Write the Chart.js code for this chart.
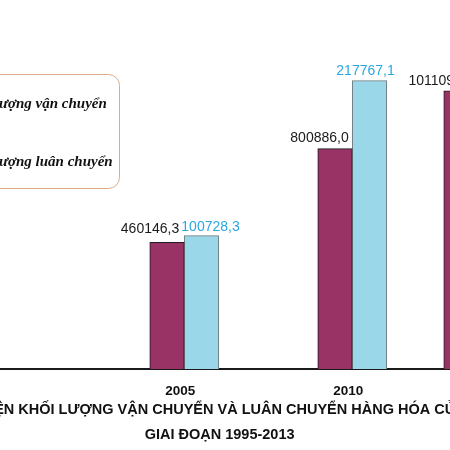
<!DOCTYPE html>
<html>
<head>
<meta charset="utf-8">
<script src="https://cdn.jsdelivr.net/npm/chart.js@4.4.1/dist/chart.umd.min.js"></script>
<style>
  html, body { margin: 0; padding: 0; width: 450px; height: 450px; overflow: hidden; background: #fff; }
  #wrap { position: absolute; left: -150px; top: 0; }
</style>
</head>
<body>
<div id="wrap"><canvas id="chart" width="700" height="450"></canvas></div>
<script>
// years shown in the picture (the earlier ones are cropped away)
var years = ['2005', '2010', '2013'];
// khoi luong van chuyen (nghin tan)
var vanChuyen = [460146.3, 800886.0, 1011090.0];
// khoi luong luan chuyen (trieu tan.km) - the 2013 bar is outside the picture
var luanChuyen = [100728.3, 217767.1, null];
var seriesNames = ['Khối lượng vận chuyển', 'Khối lượng luân chuyển'];
var titleLine1 = 'BIỂU ĐỒ THỂ HIỆN KHỐI LƯỢNG VẬN CHUYỂN VÀ LUÂN CHUYỂN HÀNG HÓA CỦA NƯỚC TA';
var titleLine2 = 'GIAI ĐOẠN 1995-2013';

// the original spaces the years unevenly, so empty slots keep that spacing on the axis
var slotLabels = ['', '', '', '', years[0], '', '', '', years[1], '', '', years[2]];

var sans = "'Liberation Sans', Arial, sans-serif";

// the picture is a crop of a wider chart: the canvas is shifted left by this much
var shift = 150;
var plotLeft = shift - 4.75;
var plotRight = plotLeft + 504;

// the two title lines are not centred on the same point in the original,
// so line 1 is laid out from its left end and line 2 from its centre
var measure = document.createElement('canvas').getContext('2d');
measure.font = 'bold 14.5px ' + sans;
var prefixW = measure.measureText(titleLine1.slice(0, titleLine1.indexOf('KHỐI'))).width;
var padL = shift + 18.3 - prefixW;
var canvasW = Math.round(2 * (shift + 219.5) - padL);
document.getElementById('chart').width = canvasW;

function fmt(v) {
	return v.toFixed(1).replace('.', ',');
}

function points(values) {
	return values.map(function(v, i) { return { x: years[i], y: v }; });
}

// value labels above each bar (the original labels were nudged by hand)
var barLabels = {
	id: 'barLabels',
	afterDatasetsDraw: function(chart) {
		var ctx = chart.ctx;
		ctx.save();
		ctx.font = '14px ' + sans;
		ctx.textAlign = 'center';
		ctx.textBaseline = 'alphabetic';
		chart.data.datasets.forEach(function(ds, d) {
			var meta = chart.getDatasetMeta(d);
			meta.data.forEach(function(bar, i) {
				var v = ds.data[i].y;
				if (v === null) return;
				ctx.fillStyle = ds.labelColor;
				ctx.fillText(fmt(v), bar.x + ds.labelShift[i], bar.y - ds.labelGap[i]);
			});
		});
		ctx.restore();
	}
};

// excel-like legend box with rounded border
var legendBox = {
	id: 'legendBox',
	afterDraw: function(chart) {
		var ctx = chart.ctx;
		var x0 = shift - 90;
		ctx.save();
		ctx.beginPath();
		ctx.roundRect(x0 + 0.5, 74.5, 209, 114, 11);
		ctx.fillStyle = '#fff';
		ctx.fill();
		ctx.strokeStyle = '#dcab8c';
		ctx.lineWidth = 1;
		ctx.stroke();
		ctx.font = "italic bold 15px 'Liberation Serif', 'Times New Roman', serif";
		ctx.textBaseline = 'alphabetic';
		ctx.textAlign = 'left';
		chart.data.datasets.forEach(function(ds, d) {
			var y = 108 + d * 58;
			ctx.fillStyle = ds.backgroundColor;
			ctx.fillRect(x0 + 26, y - 11, 14, 11);
			ctx.strokeStyle = ds.borderColor;
			ctx.strokeRect(x0 + 26.5, y - 10.5, 13, 10);
			ctx.fillStyle = '#111';
			ctx.fillText(ds.label, x0 + 51, y);
		});
		ctx.restore();
	}
};

var ctx = document.getElementById('chart').getContext('2d');
var chart = new Chart(ctx, {
	type: 'bar',
	data: {
		labels: slotLabels,
		datasets: [{
			label: seriesNames[0],
			data: points(vanChuyen),
			yAxisID: 'y',
			backgroundColor: '#993366',
			borderColor: '#1e1e1e',
			borderWidth: 1,
			barThickness: 34.5,
			labelColor: '#1a1a1a',
			labelShift: [-17, -15.5, -20],
			labelGap: [9, 6.5, 5.5]
		}, {
			label: seriesNames[1],
			data: points(luanChuyen),
			yAxisID: 'y1',
			backgroundColor: '#9ad8e9',
			borderColor: '#6f7c80',
			borderWidth: 1,
			barThickness: 34.5,
			labelColor: '#2aa8e0',
			labelShift: [9, -4, 0],
			labelGap: [4.5, 6, 6]
		}]
	},
	options: {
		responsive: false,
		animation: false,
		devicePixelRatio: 1,
		layout: { padding: { left: padL, right: 0, top: 0, bottom: 0 } },
		scales: {
			x: {
				offset: true,
				grid: { display: false },
				border: { display: true, color: '#1a1a1a', width: 2 },
				ticks: {
					autoSkip: false,
					maxRotation: 0,
					padding: 6,
					labelOffset: -4,
					color: '#111',
					font: { family: sans, size: 13.5, weight: 'bold' }
				},
				afterFit: function(s) { s.height = 28.5; }
			},
			y: {
				position: 'left',
				min: 0,
				max: 1341000,
				grid: { display: false },
				border: { display: false },
				ticks: { display: false },
				afterFit: function(s) { s.width = plotLeft - padL; }
			},
			y1: {
				position: 'right',
				min: 0,
				max: 278600,
				grid: { display: false },
				border: { display: false },
				ticks: { display: false },
				afterFit: function(s) { s.width = canvasW - plotRight; }
			}
		},
		plugins: {
			legend: { display: false },
			tooltip: { enabled: false },
			title: {
				display: true,
				position: 'bottom',
				align: 'start',
				weight: 1400,
				text: titleLine1,
				color: '#111',
				font: { family: sans, size: 14.5, weight: 'bold', lineHeight: 1.2 },
				padding: { top: 4, bottom: 0 }
			},
			subtitle: {
				display: true,
				position: 'bottom',
				weight: 1500,
				text: titleLine2,
				color: '#111',
				font: { family: sans, size: 14.5, weight: 'bold', lineHeight: 1.2 },
				padding: { top: 7.3, bottom: 6.3 }
			}
		}
	},
	plugins: [barLabels, legendBox]
});
</script>
</body>
</html>
